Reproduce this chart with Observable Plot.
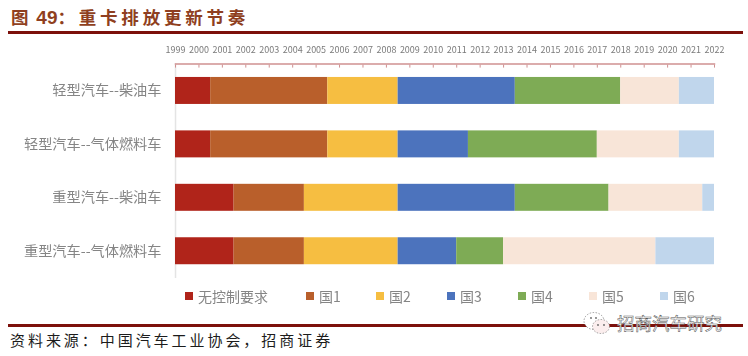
<!DOCTYPE html>
<html lang="zh">
<head>
<meta charset="utf-8">
<script src="https://cdn.jsdelivr.net/npm/d3@7"></script>
<script src="https://cdn.jsdelivr.net/npm/@observablehq/plot@0.6"></script>
<style>
html,body{margin:0;padding:0;background:#fff;}
#page{position:relative;width:748px;height:356px;overflow:hidden;font-family:"Noto Sans CJK SC","Noto Sans",sans-serif;}
#title{position:absolute;left:11px;top:5px;font-size:17.5px;font-weight:700;color:#8f3f20;letter-spacing:3.8px;line-height:24px;white-space:nowrap;}
#title b{font-family:"Liberation Sans",sans-serif;font-size:19px;letter-spacing:0;margin:0 0 0 4px;}
.rule{position:absolute;left:8px;width:735px;height:3px;background:#7c100b;}
#chart{position:absolute;left:0;top:36px;filter:blur(.45px);}
#legend{position:absolute;left:0;top:287px;width:748px;height:18px;filter:blur(.4px);}
#legend .it{position:absolute;top:0;display:flex;align-items:center;height:18px;font-size:14px;color:#858585;white-space:nowrap;}
#legend i{display:block;width:8px;height:8px;margin-right:5px;}
#caption{position:absolute;left:10px;top:329px;font-size:15px;color:#1c1c1c;letter-spacing:2.95px;line-height:22px;white-space:nowrap;}
#mark{position:absolute;left:617px;top:312px;font-size:17.5px;line-height:22px;color:#fff;-webkit-text-stroke:.5px #555;white-space:nowrap;}
#icon{position:absolute;left:582px;top:311px;}
</style>
</head>
<body>
<div id="page">
<div id="title"></div>
<div class="rule" style="top:31px"></div>
<div id="chart"></div>
<div id="legend"></div>
<div class="rule" style="top:324px"></div>
<svg id="icon" width="30" height="26" viewBox="0 0 30 26">
<ellipse cx="12" cy="10" rx="10" ry="8.5" fill="#fff" stroke="#777" stroke-width=".7" stroke-dasharray="1.5 1.5"/>
<ellipse cx="19" cy="15.5" rx="8.5" ry="7" fill="#fbeeee" stroke="#777" stroke-width=".7" stroke-dasharray="1.5 1.5"/>
<circle cx="16" cy="14" r=".9" fill="#666"/><circle cx="22" cy="14" r=".9" fill="#666"/>
<circle cx="9" cy="7" r=".9" fill="#666"/><circle cx="14" cy="7" r=".9" fill="#666"/>
</svg>
<div id="mark"></div>
<div id="caption"></div>
</div>
<script>
const titleHead = "图";
const titleNum = "49";
const titleTail = "：重卡排放更新节奏";
const captionText = "资料来源：中国汽车工业协会，招商证券";
const watermark = "招商汽车研究";

const categories = ["轻型汽车--柴油车", "轻型汽车--气体燃料车", "重型汽车--柴油车", "重型汽车--气体燃料车"];
const standards = ["无控制要求", "国1", "国2", "国3", "国4", "国5", "国6"];
const colors = ["#b0241a", "#b95f2b", "#f6be41", "#4c73bd", "#7eab55", "#f8e5d8", "#c0d6ec"];
const tickYears = d3.range(1999, 2023);

// Year in which each standard stage ends, per vehicle type; stages begin in 1999.
const startYear = 1999;
const lightDiesel = [2000.5, 2005.5, 2008.5, 2013.5, 2018, 2020.5, 2022];
const lightGas = [2000.5, 2005.5, 2008.5, 2011.5, 2017, 2020.5, 2022];
const heavyDiesel = [2001.5, 2004.5, 2008.5, 2013.5, 2017.5, 2021.5, 2022];
const heavyGas = [2001.5, 2004.5, 2008.5, 2011, 2013, 2019.5, 2022];

const ends = [lightDiesel, lightGas, heavyDiesel, heavyGas];
const segments = categories.flatMap((category, i) =>
  standards.map((standard, j) => ({
    category, standard,
    from: j === 0 ? startYear : ends[i][j - 1],
    to: ends[i][j]
  })));

const axisColor = "#cf9090";
const chart = Plot.plot({
  width: 748, height: 241.6,
  marginLeft: 175, marginRight: 34, marginTop: 27.6, marginBottom: 0,
  style: {background: "transparent", fontFamily: '"Noto Sans CJK SC","Noto Sans",sans-serif'},
  x: {domain: [1999, 2022], label: null, axis: null},
  y: {domain: categories, label: null, axis: null, paddingInner: 0.495, paddingOuter: 0.25, round: false},
  color: {domain: standards, range: colors},
  marks: [
    Plot.frame({anchor: "left", stroke: "#e4e4e4", strokeWidth: 1.5}),
    Plot.barX(segments, {x1: "from", x2: "to", y: "category", fill: "standard"}),
    Plot.axisX({anchor: "top", ticks: tickYears, tickFormat: "d", tickSize: 0, tickPadding: 11,
      fontSize: 9, stroke: "none", fill: "#7b7b7b", label: null}),
    Plot.axisX({anchor: "top", ticks: tickYears, tickSize: -3, tickFormat: () => "", stroke: axisColor, strokeWidth: 1, label: null}),
    Plot.frame({anchor: "top", stroke: axisColor, strokeWidth: 1.5}),
    Plot.axisY({anchor: "left", tickSize: 0, tickPadding: 14, fontSize: 14.2, fill: "#858585", label: null})
  ]
});
document.getElementById("chart").append(chart);

document.getElementById("title").innerHTML = `${titleHead}<b>${titleNum}</b>${titleTail}`;
document.getElementById("caption").textContent = captionText;
document.getElementById("mark").textContent = watermark;

const legendX = [185, 306, 376, 447, 518, 589, 660];
const legend = document.getElementById("legend");
standards.forEach((s, i) => {
  const it = document.createElement("div");
  it.className = "it";
  it.style.left = legendX[i] + "px";
  const sw = document.createElement("i");
  sw.style.background = colors[i];
  it.append(sw, document.createTextNode(s));
  legend.append(it);
});
</script>
</body>
</html>
